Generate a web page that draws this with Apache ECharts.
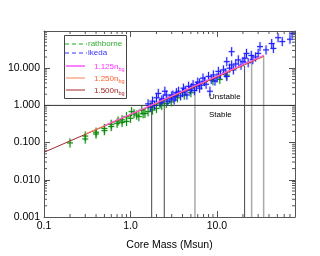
<!DOCTYPE html>
<html><head><meta charset="utf-8">
<script src="https://cdn.jsdelivr.net/npm/echarts@6/dist/echarts.min.js"></script>
<style>html,body{margin:0;padding:0;background:#fff}#c{width:320px;height:256px}</style>
</head><body><div id="c"></div>
<script>
// ---- data ----
const xTickLabels = [0.1, 1, 10];
const yTickLabels = [0.001, 0.01, 0.1, 1, 10];
const rathborne = [[0.2,0.098],[0.3,0.15],[0.3,0.125],[0.4,0.19],[0.4,0.17],[0.5,0.24],[0.5,0.21],[0.6,0.31],[0.6,0.27],[0.7,0.33],[0.72,0.38],[0.8,0.41],[0.8,0.35],[0.9,0.37],[0.9,0.5],[1.0,0.45],[1.03,0.68],[1.1,0.6],[1.18,0.55],[1.25,0.5],[1.35,0.75],[1.4,0.6],[1.47,0.61],[1.6,0.68],[1.75,0.92],[1.8,0.75],[2.0,0.83],[2.2,1.1],[2.3,1.0],[2.6,1.13],[2.97,1.25],[3.5,1.6],[4.2,1.9],[5,2.2],[9,4.6],[10.8,5.0],[13,6.5]];
const ikeda = [[1.6,1.1],[1.7,0.9],[1.8,1.3],[1.9,1.0],[2.0,1.6],[2.1,2.1],[2.2,1.2],[2.3,1.4],[2.4,1.5],[2.5,2.4],[2.6,1.9],[2.7,1.3],[2.85,1.5],[3.0,1.8],[3.1,1.9],[3.2,1.4],[3.3,1.7],[3.4,2.2],[3.6,2.4],[3.8,1.8],[4.0,2.2],[4.1,2.9],[4.3,2.5],[4.5,1.9],[4.7,3.25],[4.9,2.6],[5.1,3.0],[5.3,3.6],[5.5,2.5],[5.8,3.3],[6.0,4.2],[6.3,4.0],[6.3,2.9],[6.6,3.5],[6.9,5.4],[7.2,4.4],[7.5,3.7],[8.0,6.0],[8.3,2.4],[8.6,5.0],[9.1,6.6],[9.5,4.5],[10.0,5.5],[10.4,8.2],[11.0,6.8],[11.9,9.0],[12.5,7.5],[13,15],[13,6],[14,10],[14.8,12.2],[14.8,27.8],[15.5,9],[16.5,13],[17.7,16.7],[19,12],[20,15],[21,18.5],[22,25],[23,14],[25,22],[26,17],[28,20],[30,25],[31.5,38],[37,31],[43,46],[45,34],[51,66],[57,52],[70,60],[74,85]];
const fit1125 = [[0.5,0.29],[1,0.58],[10,6.2],[35,22.5]];
const fit1250 = [[0.3,0.17],[1,0.57],[10,6.0],[35,21.5]];
const fit1500 = [[0.1,0.055],[1,0.56],[10,5.8],[35,21]];
const vLineX   = [1.76, 2.46, 5.57, 20.9, 25.2, 34.7];
const vLineTop = [0.98, 1.37, 3.2, 11.5, 15.5, 21];
const vLineDark= [1, 1, 0, 1, 0, 0];
const threshold = 1;
const xMin = 0.1, xMax = 80, yMin = 0.001, yMax = 100;

// ---- helpers ----
const FONT = 'Liberation Sans, Arial, sans-serif';
const xMinor = [], yMinor = [];
for (let d = 0.1; d < xMax; d *= 10) for (let k = 2; k <= 9; k++) { const v = +(k*d).toPrecision(3); if (v < xMax) xMinor.push([v]); }
for (let d = 0.001; d < yMax; d *= 10) for (let k = 2; k <= 9; k++) { const v = +(k*d).toPrecision(3); if (v < yMax) yMinor.push([v]); }
const isPow10 = v => Math.abs(Math.log10(v) - Math.round(Math.log10(v))) < 1e-6;

function crossRender(color) {
  return function (params, api) {
    const p = api.coord([api.value(0), api.value(1)]);
    const mk = (x1,y1,x2,y2,w,o) => ({type:'line', shape:{x1,y1,x2,y2}, style:{stroke:color, lineWidth:w, opacity:o}});
    return {type:'group', children:[
      mk(p[0], p[1]-5, p[0], p[1]+5, 2.5, 0.15),
      mk(p[0]-3, p[1], p[0]+3, p[1], 2.5, 0.15),
      mk(p[0], p[1]-4.5, p[0], p[1]+4.5, 1, 1),
      mk(p[0]-3, p[1], p[0]+3, p[1], 1, 1)
    ]};
  };
}

const chart = echarts.init(document.getElementById('c'), null, {renderer:'canvas'});
const axisLine = {lineStyle:{color:'#555', width:1}};
const tick = {inside:true, length:6, lineStyle:{color:'#555'}};
const option = {
  animation:false,
  backgroundColor:'#fff',
  grid:{left:44, right:25, top:31, bottom:36},
  xAxis:[
    {type:'log', logBase:10, min:xMin, max:xMax, position:'bottom',
     axisLine, axisTick:tick, splitLine:{show:false}, minorTick:{show:false},
     axisLabel:{fontFamily:FONT, fontSize:10.5, color:'#000', margin:4,
       formatter: v => (isPow10(v) && xTickLabels.some(t => Math.abs(t - v) < 1e-9)) ? v.toFixed(1) : ''},
     name:'Core Mass (Msun)', nameLocation:'middle', nameGap:23,
     nameTextStyle:{fontFamily:FONT, fontSize:10.5, color:'#000'}},
    {type:'log', logBase:10, min:xMin, max:xMax, position:'top',
     axisLine, axisTick:tick, splitLine:{show:false}, axisLabel:{show:false}}
  ],
  yAxis:[
    {type:'log', logBase:10, min:yMin, max:yMax, position:'left',
     axisLine, axisTick:tick, splitLine:{show:false},
     axisLabel:{fontFamily:FONT, fontSize:10.5, color:'#000', margin:4,
       formatter: v => yTickLabels.some(t => Math.abs(t - v)/t < 1e-6) ? v.toFixed(3) : ''}},
    {type:'log', logBase:10, min:yMin, max:yMax, position:'right',
     axisLine, axisTick:tick, splitLine:{show:false}, axisLabel:{show:false}}
  ],
  series:[
    {type:'custom', name:'xminor', data:xMinor, encode:{x:0}, silent:true, z:5,
     renderItem:(params, api) => {
       const b = api.coord([api.value(0), yMin]); const t = api.coord([api.value(0), yMax]);
       return {type:'group', children:[
         {type:'line', shape:{x1:b[0],y1:b[1],x2:b[0],y2:b[1]-3}, style:{stroke:'#555',lineWidth:1}},
         {type:'line', shape:{x1:t[0],y1:t[1],x2:t[0],y2:t[1]+3}, style:{stroke:'#555',lineWidth:1}}]};
     }},
    {type:'custom', name:'yminor', data:yMinor.map(v => [xMin, v[0]]), encode:{x:0, y:1}, silent:true, z:5,
     renderItem:(params, api) => {
       const l = api.coord([xMin, api.value(1)]); const r = api.coord([xMax, api.value(1)]);
       return {type:'group', children:[
         {type:'line', shape:{x1:l[0],y1:l[1],x2:l[0]+3,y2:l[1]}, style:{stroke:'#555',lineWidth:1}},
         {type:'line', shape:{x1:r[0],y1:r[1],x2:r[0]-3,y2:r[1]}, style:{stroke:'#555',lineWidth:1}}]};
     }},
    {type:'custom', name:'vlines', data:vLineX.map((x,i) => [x, vLineTop[i], vLineDark[i]]), encode:{x:0, y:1}, silent:true, z:2,
     renderItem:(params, api) => {
       const b = api.coord([api.value(0), yMin]); const t = api.coord([api.value(0), api.value(1)]);
       const dark = api.value(2) === 1;
       return {type:'line', shape:{x1:b[0],y1:b[1],x2:t[0],y2:t[1]},
               style:{stroke: dark ? '#444' : '#aaa', lineWidth: dark ? 1 : 1.5}};
     }},
    {type:'line', name:'threshold', data:[[xMin, threshold],[xMax, threshold]], showSymbol:false, silent:true,
     lineStyle:{color:'#333', width:1}, z:2},
    {type:'custom', name:'rathborne', data:rathborne, encode:{x:0, y:1}, clip:true, renderItem:crossRender('#0a8a0a'), z:3},
    {type:'custom', name:'ikeda', data:ikeda, encode:{x:0, y:1}, clip:true, renderItem:crossRender('#1a1aff'), z:3},
    {type:'line', name:'1.500', data:fit1500, showSymbol:false, lineStyle:{color:'#a02828', width:1}, z:4},
    {type:'line', name:'1.250', data:fit1250, showSymbol:false, lineStyle:{color:'#ff7f50', width:1}, z:4},
    {type:'line', name:'1.125', data:fit1125, showSymbol:false, lineStyle:{color:'#ff55ff', width:1}, z:4}
  ],
  graphic:[
    {type:'text', left:209, top:93, style:{text:'Unstable', fontFamily:FONT, fontSize:8, fill:'#000'}, z:10},
    {type:'text', left:209, top:111, style:{text:'Stable', fontFamily:FONT, fontSize:8, fill:'#000'}, z:10},
    {type:'rect', shape:{x:64.5, y:35.5, width:62, height:63}, style:{fill:'#fff', stroke:'#444', lineWidth:1}, z:20},
    {type:'line', shape:{x1:65, y1:44, x2:87, y2:44}, style:{stroke:'#6c6', lineWidth:1.5, lineDash:[4,3]}, z:21},
    {type:'text', x:88, y:39.5, style:{text:'rathborne', fontFamily:FONT, fontSize:8, fill:'#3a3'}, z:21},
    {type:'line', shape:{x1:65, y1:53, x2:87, y2:53}, style:{stroke:'#33f', lineWidth:1, lineDash:[4,3]}, z:21},
    {type:'text', x:88, y:48.5, style:{text:'ikeda', fontFamily:FONT, fontSize:8, fill:'#33f'}, z:21},
    {type:'line', shape:{x1:66, y1:66, x2:85, y2:66}, style:{stroke:'#ff55ff', lineWidth:1.5}, z:21},
    {type:'text', x:94, y:61, style:{text:'{n|1.125n}{s|bg}', rich:{n:{fontFamily:FONT, fontSize:8, fill:'#ff33ff'}, s:{fontFamily:FONT, fontSize:5.5, fill:'#ff33ff', padding:[5,0,0,0]}}}, z:21},
    {type:'line', shape:{x1:66, y1:78, x2:85, y2:78}, style:{stroke:'#ff7f50', lineWidth:1}, z:21},
    {type:'text', x:94, y:73, style:{text:'{n|1.250n}{s|bg}', rich:{n:{fontFamily:FONT, fontSize:8, fill:'#ff6030'}, s:{fontFamily:FONT, fontSize:5.5, fill:'#ff6030', padding:[5,0,0,0]}}}, z:21},
    {type:'line', shape:{x1:66, y1:90, x2:85, y2:90}, style:{stroke:'#a02828', lineWidth:1}, z:21},
    {type:'text', x:94, y:85, style:{text:'{n|1.500n}{s|bg}', rich:{n:{fontFamily:FONT, fontSize:8, fill:'#a02828'}, s:{fontFamily:FONT, fontSize:5.5, fill:'#a02828', padding:[5,0,0,0]}}}, z:21}
  ]
};
chart.setOption(option);
</script></body></html>
